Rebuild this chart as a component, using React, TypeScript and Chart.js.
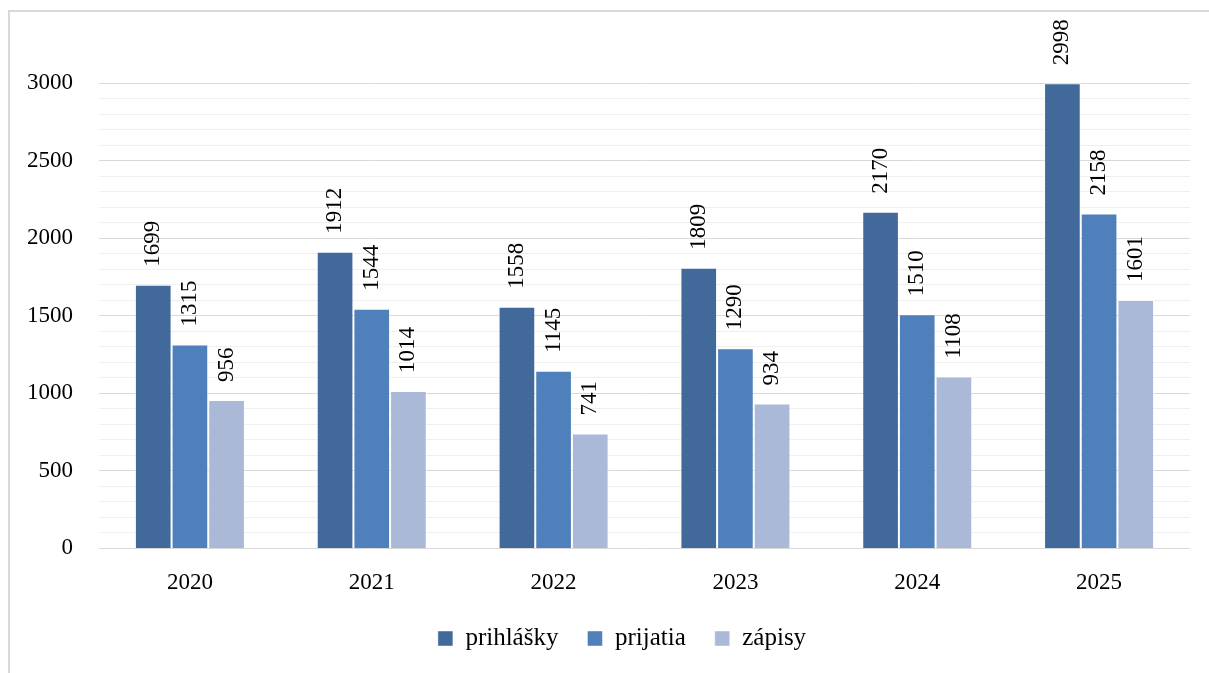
import React, { useEffect, useRef } from "react";
import { Chart, registerables } from "chart.js";

Chart.register(...registerables);

const categories = ["2020", "2021", "2022", "2023", "2024", "2025"];
const prihlasky = [1699, 1912, 1558, 1809, 2170, 2998];
const prijatia = [1315, 1544, 1145, 1290, 1510, 2158];
const zapisy = [956, 1014, 741, 934, 1108, 1601];
const seriesNames = ["prihlášky", "prijatia", "zápisy"];
const seriesColors = ["#416a9b", "#4f80bc", "#a9b9d7"];

const SERIF = "'Liberation Serif', 'Times New Roman', serif";

const valueLabels = {
  id: "valueLabels",
  afterDatasetsDraw(chart: any) {
    const ctx = chart.ctx;
    ctx.save();
    ctx.fillStyle = "#000";
    ctx.font = `23px ${SERIF}`;
    ctx.textAlign = "left";
    ctx.textBaseline = "middle";
    chart.data.datasets.forEach((ds: any, di: number) => {
      const meta = chart.getDatasetMeta(di);
      meta.data.forEach((el: any, i: number) => {
        ctx.save();
        ctx.translate(el.x, el.y - 18);
        ctx.rotate(-Math.PI / 2);
        ctx.fillText(String(ds.data[i]), 0, 0);
        ctx.restore();
      });
    });
    ctx.restore();
  },
};

const legendShift = {
  id: "legendShift",
  afterLayout(chart: any) {
    if (chart.legend) {
      chart.legend.left += 22;
      chart.legend.right += 22;
    }
  },
};

export default function App() {
  const ref = useRef<HTMLCanvasElement | null>(null);
  useEffect(() => {
    if (!ref.current) return;
    const data = [prihlasky, prijatia, zapisy];
    const chart = new Chart(ref.current, {
      type: "bar",
      data: {
        labels: categories,
        datasets: data.map((d, i) => ({
          label: seriesNames[i],
          data: d,
          backgroundColor: seriesColors[i],
          borderColor: "rgba(255,255,255,0.45)",
          borderWidth: 1,
          borderSkipped: "bottom",
          categoryPercentage: 0.605,
          barPercentage: 1,
        })),
      },
      options: {
        animation: false,
        responsive: true,
        maintainAspectRatio: false,
        layout: { padding: { top: 71, right: 19, left: 0, bottom: 12 } },
        plugins: {
          tooltip: { enabled: false },
          legend: {
            position: "bottom",
            labels: {
              boxWidth: 15,
              boxHeight: 15,
              padding: 29,
              color: "#000",
              font: { family: SERIF, size: 25 },
            },
          },
        },
        scales: {
          x: {
            grid: { display: false, drawTicks: false },
            border: { display: false },
            afterFit(scale: any) {
              scale.height -= 21;
            },
            ticks: {
              color: "#000",
              font: { family: SERIF, size: 23 },
              padding: 21,
            },
          },
          y: {
            min: 0,
            max: 3000,
            afterFit(scale: any) {
              scale.width = 89;
            },
            border: { display: false },
            grid: {
              drawTicks: false,
              color: (c: any) =>
                c.tick && c.tick.value % 500 === 0 ? "#d9d9d9" : "#efefef",
              lineWidth: 1,
            },
            ticks: {
              stepSize: 100,
              autoSkip: false,
              color: "#000",
              font: { family: SERIF, size: 23 },
              padding: 26,
              callback: (v: any) => (Number(v) % 500 === 0 ? String(v) : ""),
            },
          },
        },
      },
      plugins: [valueLabels, legendShift],
    });
    return () => chart.destroy();
  }, []);
  return (
    <div
      style={{
        position: "absolute",
        left: 8,
        top: 10,
        width: 1201,
        height: 663,
        borderTop: "2px solid #d9d9d9",
        borderLeft: "2px solid #d9d9d9",
        boxSizing: "border-box",
        background: "#fff",
      }}
    >
      <div style={{ position: "relative", width: 1199, height: 661 }}>
        <canvas ref={ref} />
      </div>
    </div>
  );
}
